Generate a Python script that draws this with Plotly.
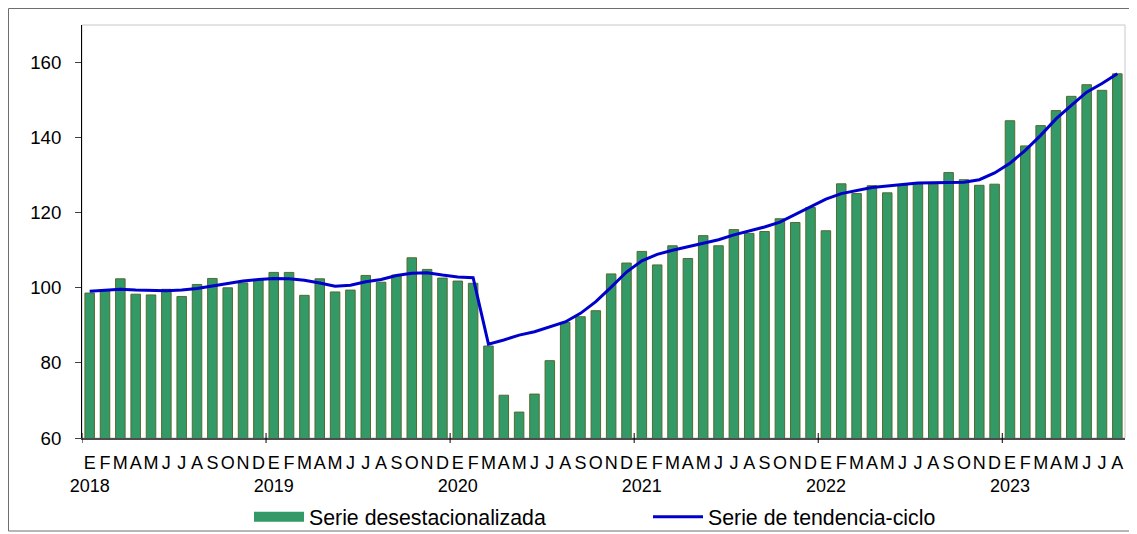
import plotly.graph_objects as go

months = ["E", "F", "M", "A", "M", "J", "J", "A", "S", "O", "N", "D"]
years = [2018, 2019, 2020, 2021, 2022, 2023]

desestacionalizada = [
    98.6, 99.2, 102.4, 98.3, 98.1, 99.6, 97.7, 100.9, 102.5, 100.0, 101.3, 102.2,
    104.1, 104.1, 98.0, 102.4, 98.9, 99.4, 103.3, 101.5, 103.4, 108.0, 104.9, 102.6,
    101.8, 101.2, 84.5, 71.4, 66.9, 71.7, 80.6, 90.8, 92.3, 93.9, 103.7, 106.6,
    109.7, 106.1, 111.2, 107.8, 113.9, 111.2, 115.5, 114.5, 115.0, 118.4, 117.4, 121.4,
    115.2, 127.7, 125.1, 127.2, 125.3, 127.4, 127.6, 127.6, 130.7, 128.8, 127.3, 127.6,
    144.5, 137.8, 143.2, 147.2, 151.0, 154.1, 152.6, 157.0,
]

tendencia_ciclo = [
    99.1, 99.4, 99.6, 99.4, 99.2, 99.2, 99.4, 99.8, 100.5, 101.2, 101.8, 102.2,
    102.5, 102.4, 102.0, 101.3, 100.4, 100.7, 101.6, 102.2, 103.3, 103.9, 104.0, 103.4,
    102.9, 102.7, 85.0, 86.1, 87.4, 88.3, 89.6, 90.9, 93.2, 96.3, 100.2, 104.2,
    107.2, 108.9, 110.0, 110.9, 111.8, 112.8, 114.1, 115.1, 116.2, 117.5, 119.5, 121.7,
    123.6, 125.1, 125.9, 126.7, 127.1, 127.5, 127.9, 128.0, 128.0, 128.1, 128.8, 130.6,
    133.2, 136.6, 140.6, 145.0, 148.6, 152.1, 154.4, 157.0,
]

n = len(desestacionalizada)
x = list(range(n))
ticktext = []
for i in range(n):
    m = months[i % 12]
    if i % 12 == 0:
        ticktext.append(f"{m}<br>{years[i // 12]}")
    else:
        ticktext.append(m)

year_bounds = [k * 12 - 0.5 for k in range(len(years))]

FONT = "Liberation Sans, Arial, sans-serif"
BAR_FILL = "#339966"

fig = go.Figure()
fig.add_trace(go.Bar(
    x=x, y=desestacionalizada, name="Serie desestacionalizada",
    width=0.62, showlegend=False, legendgroup="desest",
    marker=dict(color=BAR_FILL, line=dict(color="#556b2f", width=1)),
))
# legend entry for the bars (wide rectangle key, like the original)
fig.add_trace(go.Scatter(
    x=[None], y=[None], name="Serie desestacionalizada", mode="lines",
    legendgroup="desest", line=dict(color=BAR_FILL, width=10),
))
fig.add_trace(go.Scatter(
    x=x, y=tendencia_ciclo, name="Serie de tendencia-ciclo", mode="lines",
    line=dict(color="#0000cc", width=3),
))

# page has an 8px body margin, so the figure is sized/positioned to compensate
W, H = 1129, 526
L, R, T, B = 74, 12, 17, 96
pw, ph = W - L - R, H - T - B

shapes = []
shapes.append(dict(type="rect", xref="paper", yref="paper", x0=0, x1=1, y0=0, y1=1,
                   line=dict(color="#c8c8c8", width=1), layer="below"))
shapes.append(dict(type="rect", xref="paper", yref="paper",
                   x0=(0.5 - L) / pw, x1=(1122 - L) / pw,
                   y0=(H - B - 523) / ph, y1=(H - B - 0.5) / ph,
                   line=dict(color="#6e6e6e", width=1), layer="below"))
for b in year_bounds:
    shapes.append(dict(type="line", xref="x", yref="paper", x0=b, x1=b,
                       y0=-5 / ph, y1=5 / ph, line=dict(color="#000000", width=1)))

fig.update_layout(
    width=W, height=H,
    margin=dict(l=L, r=R, t=T, b=B, autoexpand=False),
    paper_bgcolor="white", plot_bgcolor="white",
    font=dict(family=FONT, size=18.67, color="black"),
    showlegend=True,
    legend=dict(orientation="h", x=(241 - L) / pw, xanchor="left",
                yref="container", y=1 - 509 / H, yanchor="middle",
                font=dict(size=21.3), itemwidth=50,
                entrywidth=334, entrywidthmode="pixels",
                bgcolor="rgba(0,0,0,0)"),
    shapes=shapes,
    xaxis=dict(range=[-0.5, n - 0.5], tickmode="array", tickvals=x, ticktext=ticktext,
               ticks="", showgrid=False, zeroline=False, showline=True,
               linecolor="#4d4d4d", linewidth=2, tickangle=0,
               ticklabelstandoff=7, tickfont=dict(size=18)),
    yaxis=dict(range=[60, 170], tickmode="array", tickvals=[60, 80, 100, 120, 140, 160],
               ticks="outside", ticklen=6, tickcolor="#404040", showgrid=False,
               zeroline=False, showline=True, linecolor="black", linewidth=1,
               ticklabelstandoff=10, tickfont=dict(size=18.67)),
)

fig.write_html("out.html")
